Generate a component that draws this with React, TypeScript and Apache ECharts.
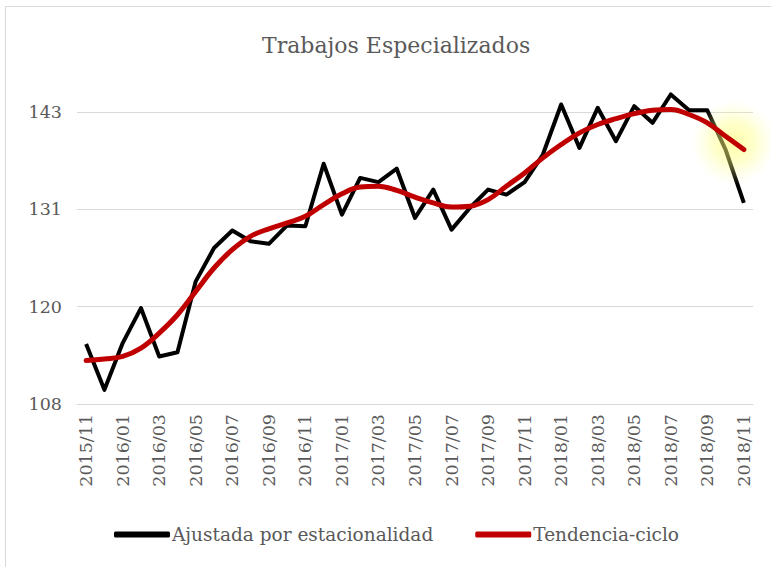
import React, { useEffect, useRef } from "react";
import * as echarts from "echarts";

const months: string[] = [
  "2015/11", "2015/12", "2016/01", "2016/02", "2016/03", "2016/04", "2016/05", "2016/06",
  "2016/07", "2016/08", "2016/09", "2016/10", "2016/11", "2016/12", "2017/01", "2017/02",
  "2017/03", "2017/04", "2017/05", "2017/06", "2017/07", "2017/08", "2017/09", "2017/10",
  "2017/11", "2017/12", "2018/01", "2018/02", "2018/03", "2018/04", "2018/05", "2018/06",
  "2018/07", "2018/08", "2018/09", "2018/10", "2018/11",
];

const ajustada: number[] = [
  115.2, 109.7, 115.3, 119.5, 113.7, 114.2, 122.7, 126.7, 128.8, 127.5, 127.2, 129.4,
  129.3, 136.8, 130.7, 135.1, 134.6, 136.2, 130.3, 133.7, 128.9, 131.5, 133.7, 133.1,
  134.6, 137.9, 143.9, 138.7, 143.5, 139.5, 143.7, 141.7, 145.1, 143.2, 143.2, 138.5,
  132.1,
];

const tendencia: number[] = [
  113.2, 113.4, 113.7, 114.7, 116.5, 118.7, 121.5, 124.3, 126.5, 128.1, 129.0, 129.7,
  130.5, 131.9, 133.2, 134.0, 134.1, 133.6, 132.8, 132.1, 131.6, 131.7, 132.5, 134.1,
  135.7, 137.5, 139.1, 140.5, 141.5, 142.2, 142.8, 143.2, 143.3, 142.7, 141.7, 140.1,
  138.5,
];

const yMin = 108;
const yMax = 143;

const SERIF = "'DejaVu Serif', 'Liberation Serif', serif";
const GREY = "#595959";

export default function App() {
  const ref = useRef<HTMLDivElement>(null);

  useEffect(() => {
    if (!ref.current) return;
    const chart = echarts.init(ref.current, null, { renderer: "svg" });
    const lastIdx = tendencia.length - 1;
    const glow = tendencia.map((v, i) => (i === lastIdx ? v : null));

    chart.setOption({
      animation: false,
      backgroundColor: "#ffffff",
      title: {
        text: "Trabajos Especializados",
        left: 257,
        top: 29,
        textStyle: { fontFamily: SERIF, fontSize: 22, fontWeight: "normal", color: GREY },
      },
      graphic: [
        {
          type: "rect",
          shape: { x: 5.5, y: 6.5, width: 800, height: 600 },
          style: { fill: "none", stroke: "#d9d9d9", lineWidth: 1 },
          silent: true,
        },
      ],
      legend: {
        data: ["Ajustada por estacionalidad", "Tendencia-ciclo"],
        left: 109,
        top: 520,
        itemWidth: 56,
        itemHeight: 6,
        itemGap: 42,
        icon: "roundRect",
        textStyle: { fontFamily: SERIF, fontSize: 18.5, color: GREY, padding: [0, 0, 0, -3] },
      },
      grid: { left: 77, right: 18, top: 112, bottom: 163 },
      xAxis: {
        type: "category",
        data: months,
        boundaryGap: true,
        axisLine: { show: true, lineStyle: { color: "#d9d9d9", width: 1 } },
        axisTick: { show: false },
        axisLabel: {
          interval: 1,
          rotate: 90,
          margin: 10,
          fontFamily: SERIF,
          fontSize: 17.5,
          color: GREY,
        },
      },
      yAxis: {
        type: "value",
        min: yMin,
        max: yMax,
        interval: (yMax - yMin) / 3,
        axisLine: { show: false },
        axisTick: { show: false },
        splitLine: { lineStyle: { color: "#d9d9d9", width: 1 } },
        axisLabel: {
          margin: 15,
          fontFamily: SERIF,
          fontSize: 17.5,
          color: GREY,
          formatter: (v: number) => String(Math.round(v)),
        },
      },
      series: [
        {
          name: "Ajustada por estacionalidad",
          type: "line",
          data: ajustada,
          symbol: "none",
          clip: false,
          z: 2,
          lineStyle: { color: "#000000", width: 4, join: "round" },
          itemStyle: { color: "#000000" },
        },
        {
          name: "glow",
          type: "scatter",
          data: glow,
          symbolSize: 84,
          symbolOffset: [-10, -7],
          clip: false,
          z: 3,
          silent: true,
          itemStyle: {
            color: new echarts.graphic.RadialGradient(0.5, 0.5, 0.5, [
              { offset: 0, color: "rgba(255,255,110,0.75)" },
              { offset: 0.5, color: "rgba(255,255,130,0.5)" },
              { offset: 1, color: "rgba(255,255,170,0)" },
            ]),
          },
        },
        {
          name: "Tendencia-ciclo",
          type: "line",
          data: tendencia,
          symbol: "none",
          smooth: 0.4,
          clip: false,
          z: 4,
          lineStyle: { color: "#c00000", width: 5, cap: "round" },
          itemStyle: { color: "#c00000" },
        },
      ],
    });
    return () => chart.dispose();
  }, []);

  return (
    <div
      ref={ref}
      style={{ position: "absolute", left: 0, top: 0, width: 771, height: 567 }}
    />
  );
}
